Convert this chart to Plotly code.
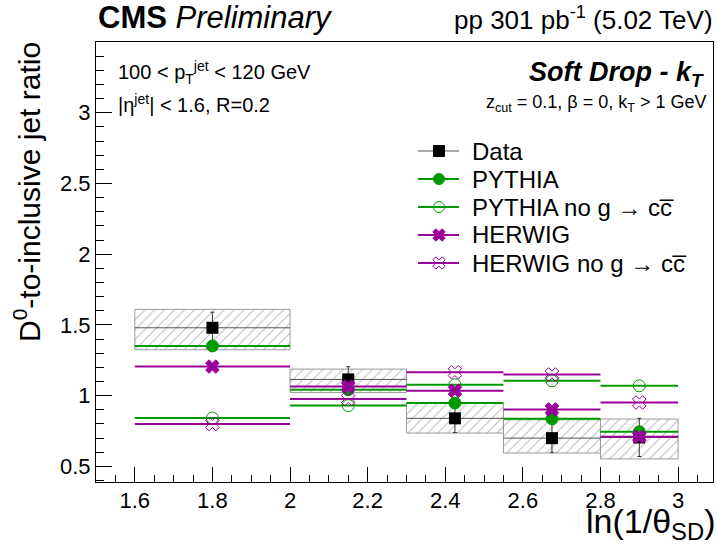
import plotly.graph_objects as go

# ---------------- data ----------------
bin_lo = [1.6, 2.0, 2.3, 2.55, 2.8]
bin_hi = [2.0, 2.3, 2.55, 2.8, 3.0]
data_y = [1.48, 1.115, 0.84, 0.70, 0.705]
data_stat = [0.11, 0.09, 0.10, 0.10, 0.135]
sys_low = [1.325, 1.022, 0.736, 0.595, 0.553]
sys_high = [1.61, 1.188, 0.948, 0.83, 0.835]
pythia = [1.352, 1.042, 0.948, 0.837, 0.745]
pythia_nogcc = [0.842, 0.93, 1.077, 1.105, 1.07]
herwig = [1.206, 1.065, 1.035, 0.903, 0.71]
herwig_nogcc = [0.80, 0.976, 1.166, 1.15, 0.952]

x_ticks = [1.6, 1.8, 2.0, 2.2, 2.4, 2.6, 2.8, 3.0]
x_ticklabels = ["1.6", "1.8", "2", "2.2", "2.4", "2.6", "2.8", "3"]
y_ticks = [0.5, 1.0, 1.5, 2.0, 2.5, 3.0]
y_ticklabels = ["0.5", "1", "1.5", "2", "2.5", "3"]

legend_labels = ["Data", "PYTHIA", "PYTHIA no g \u2192 cc\u0305", "HERWIG",
                 "HERWIG no g \u2192 cc\u0305"]

centers = [(a + b) / 2 for a, b in zip(bin_lo, bin_hi)]
halfw = [(b - a) / 2 for a, b in zip(bin_lo, bin_hi)]
widths = [b - a for a, b in zip(bin_lo, bin_hi)]

GREEN = "#009a00"
PURPLE = "#990099"
DATA_LINE = "#555555"
FONT = "Liberation Sans, Arial, Helvetica, sans-serif"

W, H = 717, 544
ML, MR, MT, MB = 96, 4, 42, 62
PW, PH = W - ML - MR, H - MT - MB


def px(xp):
    return (xp - ML) / PW


def py(yp):
    return (H - MB - yp) / PH


fig = go.Figure()

# systematic hatched boxes
fig.add_trace(go.Bar(
    x=centers, width=widths, base=sys_low,
    y=[h - l for h, l in zip(sys_high, sys_low)],
    marker=dict(color="rgba(255,255,255,0)",
                line=dict(color="#9a9a9a", width=1),
                pattern=dict(shape="/", fgcolor="#7a7a7a", bgcolor="rgba(255,255,255,0)",
                             size=7, solidity=0.15)),
    showlegend=False, hoverinfo="skip"))

# data
fig.add_trace(go.Scatter(
    x=centers, y=data_y, mode="markers",
    marker=dict(symbol="square", size=12, color="black"),
    error_x=dict(type="data", array=halfw, color=DATA_LINE, thickness=1, width=0),
    error_y=dict(type="data", array=data_stat, color="#333333", thickness=1, width=2),
    showlegend=False))

styles = [
    ("square", "black", DATA_LINE, 1),
    ("circle", GREEN, GREEN, 2),
    ("circle-open", GREEN, GREEN, 2),
    ("x", PURPLE, PURPLE, 2),
    ("x-open", PURPLE, PURPLE, 2),
]

for yvals, (sym, mcol, lcol, lw) in zip([pythia, pythia_nogcc, herwig, herwig_nogcc], styles[1:]):
    fig.add_trace(go.Scatter(
        x=centers, y=yvals, mode="markers",
        marker=dict(symbol=sym, size=12, color=mcol, line=dict(width=1, color=mcol)),
        error_x=dict(type="data", array=halfw, color=lcol, thickness=lw, width=0),
        showlegend=False))

# ---- hand-built legend (pixel coordinates on a hidden overlay axis) ----
leg_y = [151, 179, 207, 235, 263]
leg_x0, leg_xm, leg_x1, leg_tx = 418, 439, 459, 470
for lab, yy, (sym, mcol, lcol, lw) in zip(legend_labels, leg_y, styles):
    fig.add_trace(go.Scatter(
        x=[leg_x0, leg_x1], y=[yy, yy], mode="lines", xaxis="x2", yaxis="y2",
        line=dict(color=lcol, width=lw), showlegend=False, hoverinfo="skip"))
    fig.add_trace(go.Scatter(
        x=[leg_xm], y=[yy], mode="markers", xaxis="x2", yaxis="y2",
        marker=dict(symbol=sym, size=11, color=mcol, line=dict(width=1, color=mcol)),
        showlegend=False, hoverinfo="skip"))

ann = [
    dict(text="<b>CMS</b> <i>Preliminary</i>", x=px(96), y=py(37), xanchor="left",
         yanchor="bottom", font=dict(size=31)),
    dict(text="pp 301 pb<sup>-1</sup> (5.02 TeV)", x=px(715), y=py(37), xanchor="right",
         yanchor="bottom", font=dict(size=26)),
    dict(text="100 < p<sub>T</sub><sup>jet</sup> < 120 GeV", x=px(116), y=py(72),
         xanchor="left", yanchor="middle", font=dict(size=20)),
    dict(text="|\u03b7<sup>jet</sup>| < 1.6, R=0.2", x=px(116), y=py(103),
         xanchor="left", yanchor="middle", font=dict(size=20)),
    dict(text="<b><i>Soft Drop - k<sub>T</sub></i></b>", x=px(706), y=py(74),
         xanchor="right", yanchor="middle", font=dict(size=27)),
    dict(text="z<sub>cut</sub> = 0.1, \u03b2 = 0, k<sub>T</sub> > 1 GeV", x=px(708), y=py(104),
         xanchor="right", yanchor="middle", font=dict(size=18)),
    dict(text="ln(1/\u03b8<sub>SD</sub>)", x=px(717), y=py(547), xanchor="right",
         yanchor="bottom", font=dict(size=34)),
    dict(text="D<sup>0</sup>-to-inclusive jet ratio", x=px(27), y=py(40), xanchor="center",
         yanchor="top", textangle=-90, font=dict(size=30)),
]
for lab, yy in zip(legend_labels, leg_y):
    ann.append(dict(text=lab, x=px(leg_tx), y=py(yy), xanchor="left", yanchor="middle",
                    font=dict(size=24)))
for a in ann:
    a.update(xref="paper", yref="paper", showarrow=False)
    a["font"].update(family=FONT, color="black")

fig.update_layout(
    width=W, height=H,
    margin=dict(l=ML, r=MR, t=MT, b=MB),
    paper_bgcolor="white", plot_bgcolor="white",
    font=dict(family=FONT, color="black"),
    annotations=ann,
    barmode="overlay",
    showlegend=False,
    xaxis=dict(range=[1.5, 3.09], showgrid=False, zeroline=False,
               showline=True, linecolor="black", linewidth=1, mirror=True,
               ticks="inside", ticklen=15, tickcolor="black",
               tickvals=x_ticks, ticktext=x_ticklabels,
               tickfont=dict(size=22, family=FONT), ticklabelstandoff=-1,
               minor=dict(dtick=0.05, tick0=1.5, ticks="inside", ticklen=7, tickcolor="black")),
    yaxis=dict(range=[0.39, 3.5], showgrid=False, zeroline=False,
               showline=True, linecolor="black", linewidth=1, mirror=True,
               ticks="inside", ticklen=16, tickcolor="black",
               tickvals=y_ticks, ticktext=y_ticklabels,
               tickfont=dict(size=22, family=FONT),
               minor=dict(dtick=0.1, tick0=0.4, ticks="inside", ticklen=8, tickcolor="black")),
    xaxis2=dict(overlaying="x", range=[ML, ML + PW], visible=False),
    yaxis2=dict(overlaying="y", range=[H - MB, MT], visible=False),
)

fig.write_html("out.html", config={"displayModeBar": False},
               post_script="document.body.style.margin='0px';")
